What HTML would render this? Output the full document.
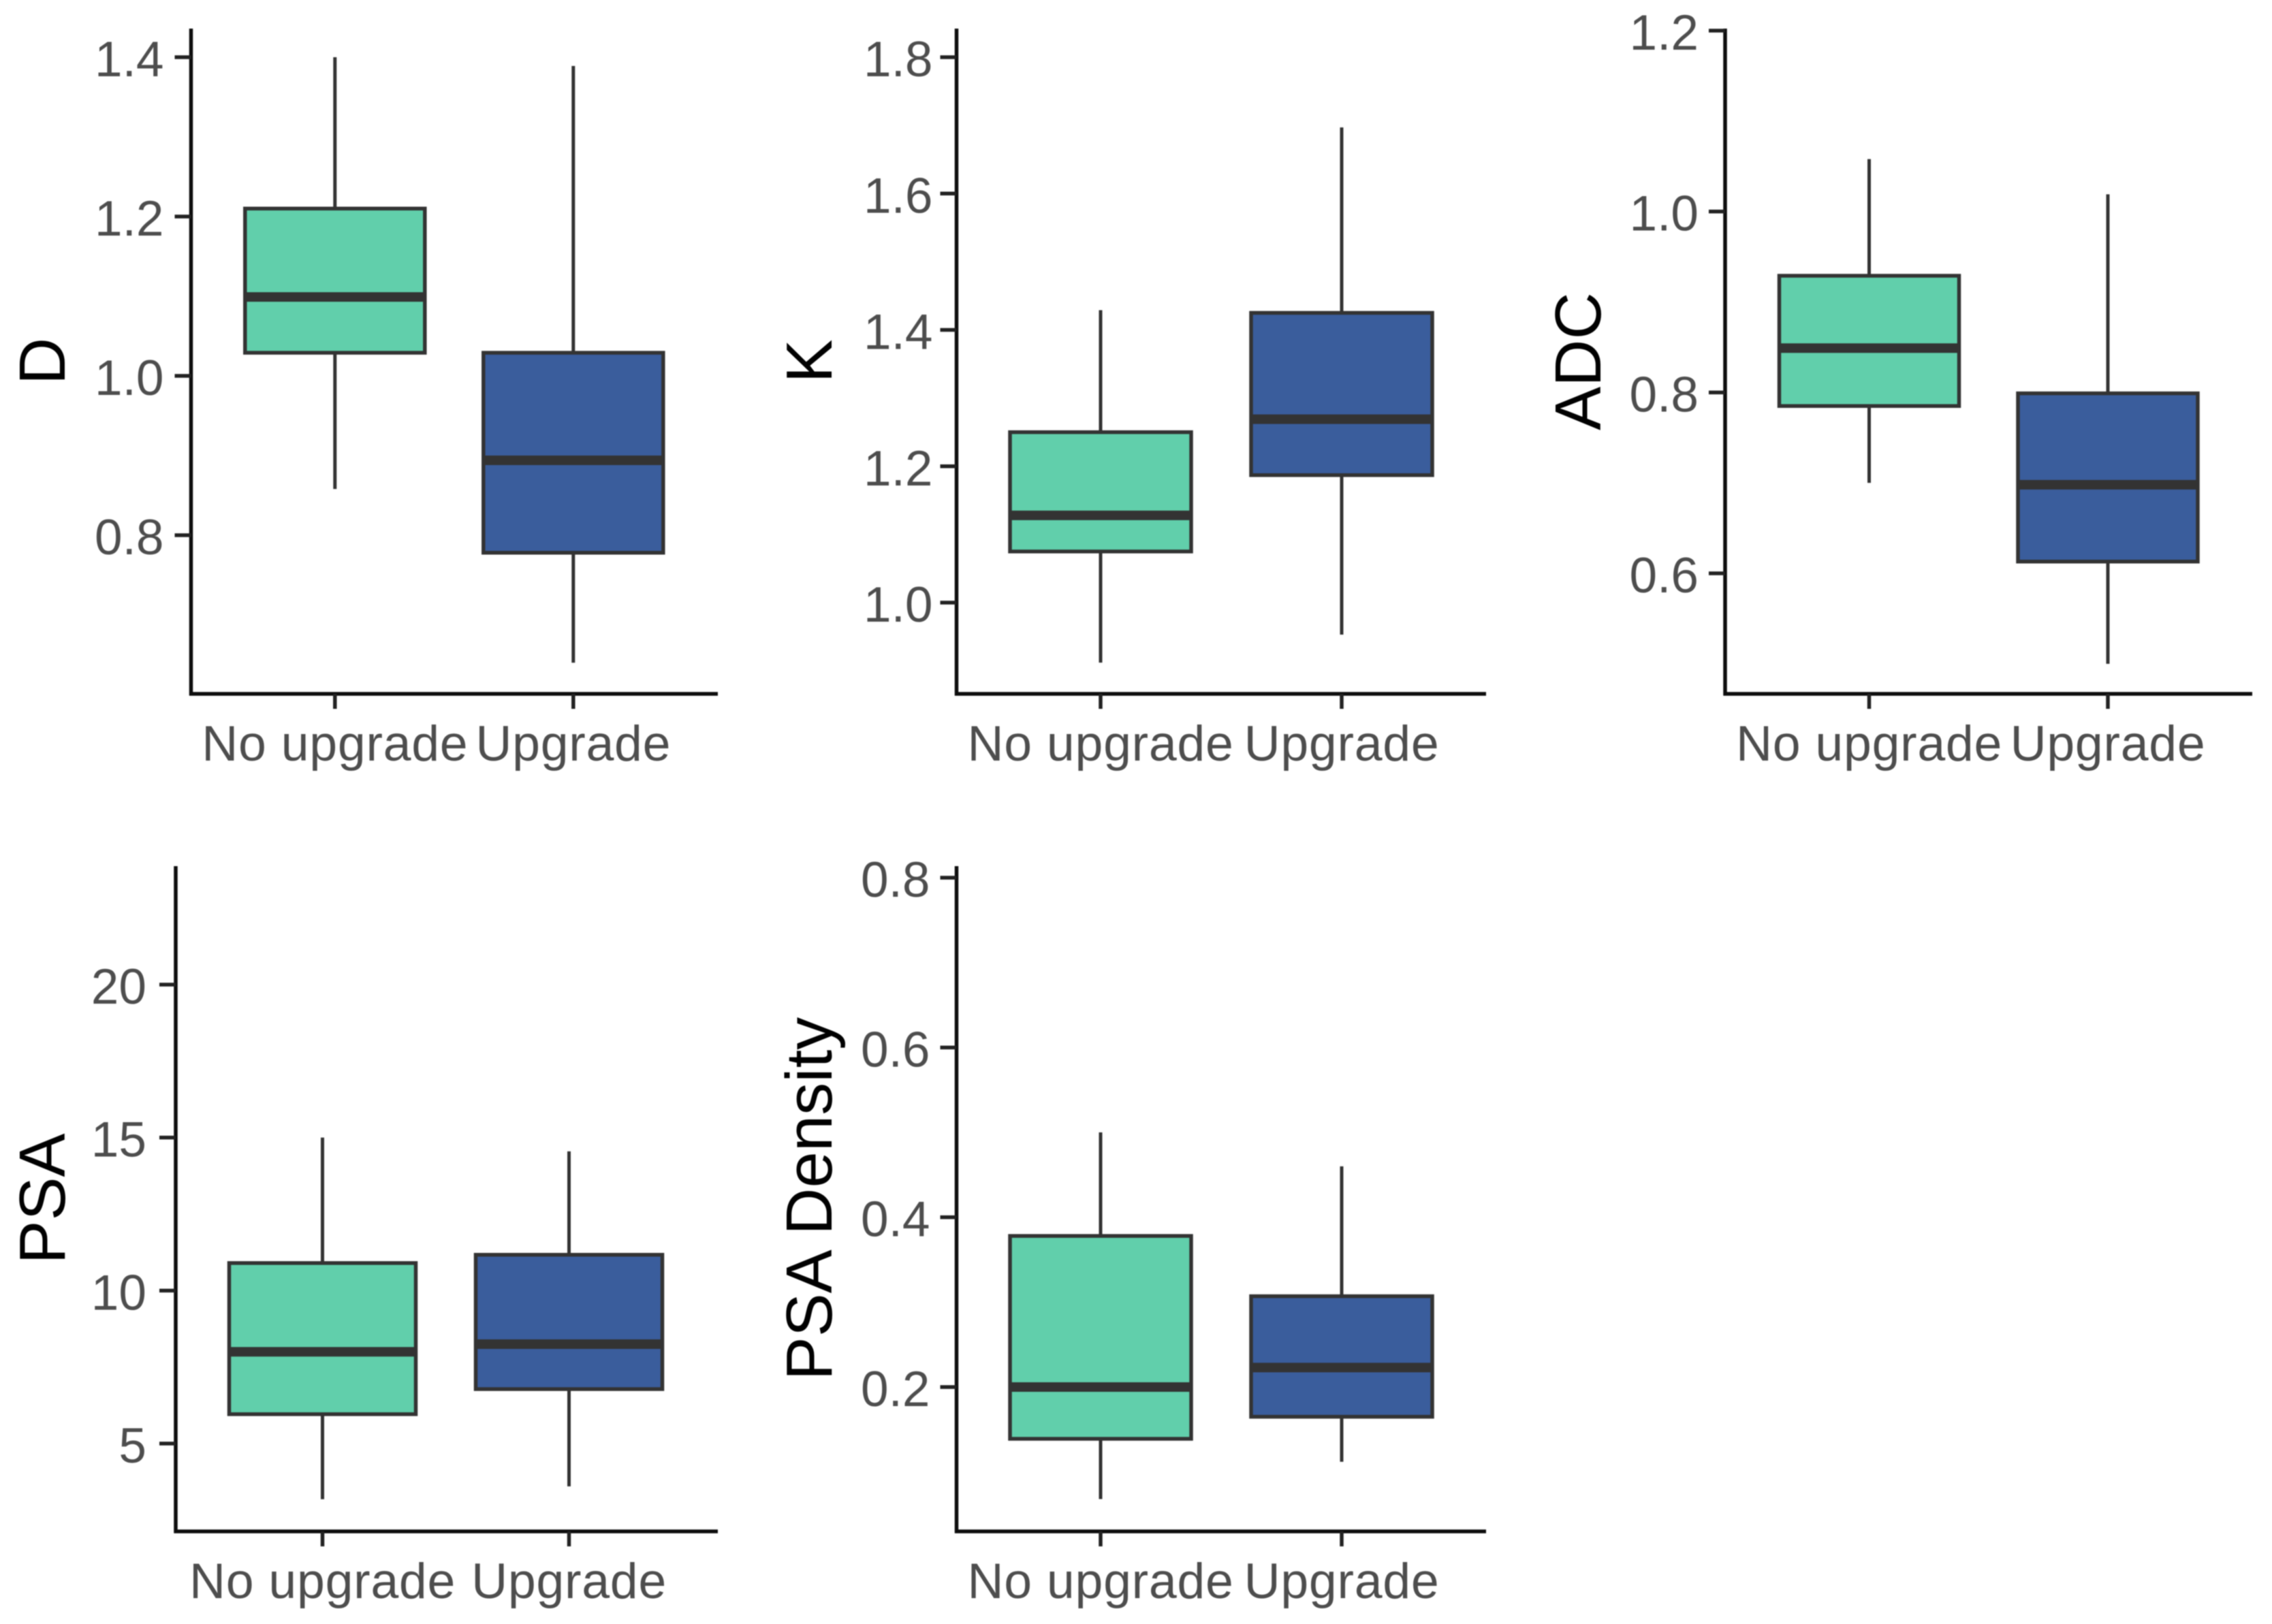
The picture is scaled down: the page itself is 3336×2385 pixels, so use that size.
<!DOCTYPE html>
<html lang="en">
<head>
<meta charset="utf-8">
<title>Box plots by upgrade status</title>
<style>
html,body{margin:0;padding:0;background:#fff;}
svg{display:block;font-family:"Liberation Sans",Arial,sans-serif;filter:blur(0.8px);}
</style>
</head>
<body>
<svg id="figure" xmlns="http://www.w3.org/2000/svg" width="3336" height="2385" viewBox="0 0 3336 2385"></svg>
<script>
const categories = ['No upgrade', 'Upgrade'];

const dTicks = ['0.8', '1.0', '1.2', '1.4'];
const dLow = [0.858, 0.64];
const dQ1 = [1.029, 0.778];
const dMedian = [1.099, 0.894];
const dQ3 = [1.21, 1.029];
const dHigh = [1.40, 1.389];

const kTicks = ['1.0', '1.2', '1.4', '1.6', '1.8'];
const kLow = [0.912, 0.953];
const kQ1 = [1.075, 1.187];
const kMedian = [1.128, 1.269];
const kQ3 = [1.25, 1.425];
const kHigh = [1.429, 1.697];

const adcTicks = ['0.6', '0.8', '1.0', '1.2'];
const adcLow = [0.70, 0.50];
const adcQ1 = [0.785, 0.613];
const adcMedian = [0.849, 0.698];
const adcQ3 = [0.929, 0.799];
const adcHigh = [1.058, 1.019];

const psaTicks = ['5', '10', '15', '20'];
const psaLow = [3.18, 3.6];
const psaQ1 = [5.96, 6.78];
const psaMedian = [8.0, 8.25];
const psaQ3 = [10.9, 11.17];
const psaHigh = [15.0, 14.55];

const densityTicks = ['0.2', '0.4', '0.6', '0.8'];
const densityLow = [0.068, 0.112];
const densityQ1 = [0.139, 0.165];
const densityMedian = [0.20, 0.223];
const densityQ3 = [0.378, 0.307];
const densityHigh = [0.50, 0.46];

const panels = [
  {key:'d', title:'D', ticks:dTicks, low:dLow, q1:dQ1, med:dMedian, q3:dQ3, high:dHigh,
   axisX:280.5, right:1054, top:42, bottom:1019, v1:1.4, p1:84, v2:0.8, p2:786, cx:[491.8,841.8], hw:132, titleX:95, labelY:1117, gap:40},
  {key:'k', title:'K', ticks:kTicks, low:kLow, q1:kQ1, med:kMedian, q3:kQ3, high:kHigh,
   axisX:1404.5, right:2182, top:42, bottom:1019, v1:1.8, p1:84, v2:1.0, p2:885, cx:[1616,1970], hw:133, titleX:1221, labelY:1117, gap:35},
  {key:'adc', title:'ADC', ticks:adcTicks, low:adcLow, q1:adcQ1, med:adcMedian, q3:adcQ3, high:adcHigh,
   axisX:2533, right:3307, top:42, bottom:1019, v1:1.2, p1:45, v2:0.6, p2:842, cx:[2744.5,3095], hw:132, titleX:2350, labelY:1117, gap:39},
  {key:'psa', title:'PSA', ticks:psaTicks, low:psaLow, q1:psaQ1, med:psaMedian, q3:psaQ3, high:psaHigh,
   axisX:258, right:1054, top:1272, bottom:2249, v1:20, p1:1446, v2:5, p2:2120, cx:[473.5,835.5], hw:137, titleX:95, labelY:2347, gap:43},
  {key:'psa-density', title:'PSA Density', ticks:densityTicks, low:densityLow, q1:densityQ1, med:densityMedian, q3:densityQ3, high:densityHigh,
   axisX:1404.5, right:2182, top:1272, bottom:2249, v1:0.8, p1:1289, v2:0.2, p2:2037, cx:[1616,1970], hw:133, titleX:1221, labelY:2347, gap:39}
];

const fills = ['#61CFAB', '#3A5D9C'];
const boxStroke = '#333333';
const axisStroke = '#0d0d0d';
const labelColor = '#4d4d4d';
const SVGNS = 'http://www.w3.org/2000/svg';
const figure = document.getElementById('figure');

function mk(tag, parent) {
  const el = document.createElementNS(SVGNS, tag);
  parent.appendChild(el);
  return el;
}
function line(parent, x1, y1, x2, y2, color, w) {
  const el = mk('line', parent);
  el.setAttribute('x1', x1);
  el.setAttribute('y1', y1);
  el.setAttribute('x2', x2);
  el.setAttribute('y2', y2);
  el.setAttribute('stroke', color);
  el.setAttribute('stroke-width', w);
  return el;
}
function yScale(p) {
  const k = (p.p2 - p.p1) / (p.v2 - p.v1);
  return function (v) { return p.p1 + (v - p.v1) * k; };
}

panels.forEach(function (p) {
  const y = yScale(p);
  const g = mk('g', figure);
  
  

  const yAxis = line(g, p.axisX, p.top, p.axisX, p.bottom + 2.5, axisStroke, 5.5);
  
  

  const xAxis = line(g, p.axisX - 2.5, p.bottom, p.right, p.bottom, axisStroke, 5.5);
  
  

  p.ticks.forEach(function (label) {
    const ty = y(Number(label));
    const tick = line(g, p.axisX - 24, ty, p.axisX, ty, '#222222', 5.5);
    
    

    const t = mk('text', g);
    
    
    t.setAttribute('x', p.axisX - p.gap);
    t.setAttribute('y', ty + 28);
    t.setAttribute('text-anchor', 'end');
    t.setAttribute('font-size', '73');
    t.setAttribute('fill', labelColor);
    t.textContent = label;
  });

  categories.forEach(function (cat, i) {
    const cx = p.cx[i];

    const tick = line(g, cx, p.bottom, cx, p.bottom + 22, '#222222', 5.5);
    
    

    const t = mk('text', g);
    
    
    t.setAttribute('x', cx);
    t.setAttribute('y', p.labelY);
    t.setAttribute('text-anchor', 'middle');
    t.setAttribute('font-size', '73.5');
    t.setAttribute('letter-spacing', '0.7');
    t.setAttribute('fill', labelColor);
    t.textContent = cat;

    const whiskerHigh = line(g, cx, y(p.high[i]), cx, y(p.q3[i]), boxStroke, 5);
    
    

    const whiskerLow = line(g, cx, y(p.q1[i]), cx, y(p.low[i]), boxStroke, 5);
    
    

    const box = mk('rect', g);
    
    
    box.setAttribute('x', cx - p.hw);
    box.setAttribute('y', y(p.q3[i]));
    box.setAttribute('width', p.hw * 2);
    box.setAttribute('height', y(p.q1[i]) - y(p.q3[i]));
    box.setAttribute('fill', fills[i]);
    box.setAttribute('stroke', boxStroke);
    box.setAttribute('stroke-width', 5.5);

    const median = line(g, cx - p.hw, y(p.med[i]), cx + p.hw, y(p.med[i]), boxStroke, 14);
    
    
  });

  const title = mk('text', g);
  
  
  title.setAttribute('x', 0);
  title.setAttribute('y', 0);
  title.setAttribute('transform', 'translate(' + p.titleX + ',' + ((p.top + p.bottom) / 2) + ') rotate(-90)');
  title.setAttribute('text-anchor', 'middle');
  title.setAttribute('font-size', '96');
  title.setAttribute('fill', '#000000');
  title.textContent = p.title;
});
</script>
</body>
</html>
